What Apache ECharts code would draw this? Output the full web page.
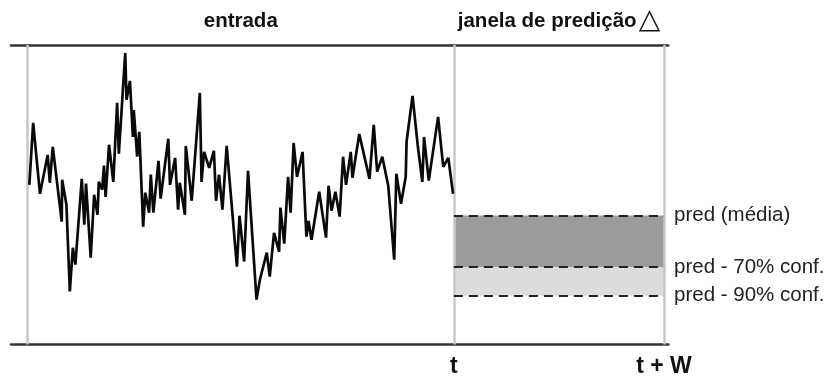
<!DOCTYPE html>
<html>
<head>
<meta charset="utf-8">
<script src="https://cdn.jsdelivr.net/npm/echarts@6/dist/echarts.min.js"></script>
<style>html,body{margin:0;padding:0;background:#fff}#c{width:829px;height:380px}</style>
</head>
<body>
<div id="c"></div>
<script>
// input window (time index, value)
const inputTime = [0.4,1.3,2.9,4.7,5.2,5.9,8.0,8.1,9.1,9.9,10.6,11.2,12.7,13.3,13.7,14.8,15.6,16.4,16.7,17.5,17.9,18.3,19.1,20.1,21.0,21.4,22.9,23.2,24.0,24.7,24.9,25.7,26.2,27.1,27.6,28.5,28.9,29.5,30.7,31.2,33.0,33.4,34.6,35.3,35.7,36.9,37.1,38.5,40.4,40.8,41.4,42.6,43.7,44.2,44.9,45.7,46.7,49.1,49.7,50.8,51.7,53.7,54.5,56.1,56.8,57.8,59.0,59.3,60.2,61.1,61.7,62.4,63.2,64.5,65.4,65.9,66.6,68.4,70.0,70.6,71.3,72.2,73.2,74.0,74.7,75.8,76.2,77.8,80.2,81.2,82.0,83.2,84.6,86.0,86.5,87.6,88.7,88.9,90.3,91.5,92.6,93.0,94.1,96.3,97.5,98.7,99.8];
const inputValue = [53.3,74.0,50.3,63.3,54.0,66.0,41.0,55.0,46.7,17.7,32.3,26.7,55.3,40.0,53.7,29.0,50.0,43.3,54.3,51.7,59.7,49.3,66.7,54.3,80.7,63.7,97.3,81.7,88.0,69.3,78.3,62.7,71.0,39.3,50.7,44.0,56.7,44.0,61.3,48.7,68.7,53.3,62.3,45.0,54.0,43.3,66.3,48.0,84.0,54.3,64.3,59.0,64.7,48.0,56.7,45.0,66.3,26.0,43.0,27.7,58.0,15.0,21.7,30.7,22.7,37.3,31.0,45.7,33.7,56.0,44.0,67.3,56.0,64.3,36.0,41.3,35.0,51.0,35.7,53.0,44.7,51.0,42.7,62.7,53.3,64.3,55.7,70.3,55.3,73.3,57.7,62.7,53.0,28.3,57.0,47.0,56.0,67.7,83.0,66.7,54.3,69.3,54.7,76.0,59.3,62.3,50.3];

// prediction window
const tStart = 0;
const t = 100;
const W = 49.3;
const predLevels = [43.1, 25.9, 16.3];           // média, 70% conf., 90% conf.
const bandLabels = ['pred (média)', 'pred - 70% conf.', 'pred - 90% conf.'];
const windowTitles = ['entrada', 'janela de predição'];
const bottomLabels = ['t', 't + W'];

const topPositions = [(tStart + t) / 2, t + W / 2];
const bottomPositions = [t, t + W];

const chart = echarts.init(document.getElementById('c'), null, {renderer: 'canvas'});

const dashStyle = {color: '#222', width: 2, type: [9, 6]};
const vStyle = {color: '#c8c8c8', width: 2.5, type: 'solid'};

const hLines = predLevels.map((lv, i) => [
  {coord: [t, lv], lineStyle: dashStyle,
   label: {show: true, position: 'end', distance: 10, formatter: bandLabels[i],
           color: '#222', fontSize: 20.5, fontFamily: 'Liberation Sans, Arial, sans-serif',
           padding: i === 0 ? [8, 0, 0, 0] : 0}},
  {coord: [t + W, lv]}
]);
const vLines = [tStart, t, t + W].map(x => ({xAxis: x, lineStyle: vStyle, label: {show: false}}));

const axisCommon = {
  type: 'value', min: -3.9, max: 150.3,
  axisTick: {show: false}, splitLine: {show: false},
  axisLine: {show: true, lineStyle: {color: '#333', width: 2.5}}
};

chart.setOption({
  animation: false,
  grid: {left: 11, right: 160.7, top: 45, bottom: 35.5},
  xAxis: [
    Object.assign({}, axisCommon, {
      position: 'bottom',
      axisLabel: {
        show: true, customValues: bottomPositions, margin: 22, verticalAlign: 'middle',
        fontSize: 23, fontWeight: 'bold', color: '#111',
        fontFamily: 'Liberation Sans, Arial, sans-serif',
        formatter: v => { const i = bottomPositions.findIndex(p => Math.abs(p - v) < 1e-6); return i >= 0 ? bottomLabels[i] : ''; }
      }
    }),
    Object.assign({}, axisCommon, {
      position: 'top',
      axisLabel: {
        show: true, customValues: topPositions, margin: 24, verticalAlign: 'middle',
        fontSize: 20, fontWeight: 'bold', color: '#111',
        fontFamily: 'Liberation Sans, Arial, sans-serif',
        formatter: v => {
          const i = topPositions.findIndex(p => Math.abs(p - v) < 1e-6);
          if (i < 0) return '';
          return i === 1 ? '{a|' + windowTitles[i] + '}{b|△}' : '{a|' + windowTitles[i] + '}';
        },
        rich: {
          a: {fontSize: 20.5, fontWeight: 'bold', color: '#111', fontFamily: 'Liberation Sans, Arial, sans-serif'},
          b: {fontSize: 28, color: '#111', fontFamily: 'DejaVu Sans', padding: [0, 0, 0, 2]}
        }
      }
    })
  ],
  yAxis: {type: 'value', min: 0, max: 100, show: false},
  series: [{
    type: 'line',
    data: inputTime.map((x, i) => [x, inputValue[i]]),
    showSymbol: false, symbol: 'none',
    lineStyle: {color: '#0a0a0a', width: 2.7},
    z: 5,
    silent: true,
    markArea: {
      silent: true,
      data: [
        [{xAxis: t, yAxis: predLevels[1], itemStyle: {color: '#9b9b9b'}}, {xAxis: t + W, yAxis: predLevels[0]}],
        [{xAxis: t, yAxis: predLevels[2], itemStyle: {color: '#dcdcdc'}}, {xAxis: t + W, yAxis: predLevels[1]}]
      ]
    },
    markLine: {
      silent: true,
      symbol: ['none', 'none'],
      data: vLines.concat(hLines)
    }
  }]
});
</script>
</body>
</html>
